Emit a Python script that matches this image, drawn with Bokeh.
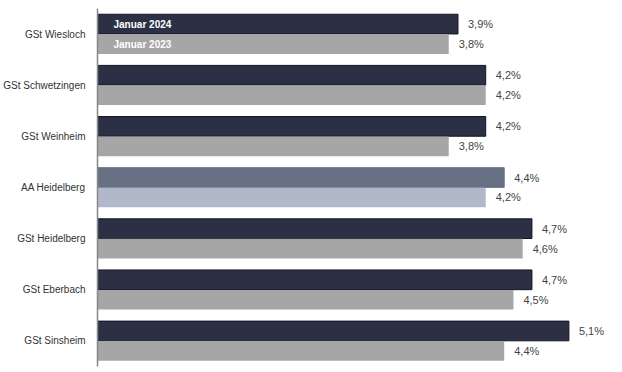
from bokeh.plotting import figure
from bokeh.models import ColumnDataSource, FactorRange, Range1d
from bokeh.transform import dodge
from bokeh.core.properties import value
from bokeh.embed import file_html
from bokeh.resources import INLINE

categories = ["GSt Wiesloch", "GSt Schwetzingen", "GSt Weinheim", "AA Heidelberg",
              "GSt Heidelberg", "GSt Eberbach", "GSt Sinsheim"]
jan_2024 = [3.9, 4.2, 4.2, 4.4, 4.7, 4.7, 5.1]
jan_2023 = [3.8, 4.2, 3.8, 4.2, 4.6, 4.5, 4.4]
series_names = ["Januar 2024", "Januar 2023"]

def fmt(v):
    return f"{v:.1f}".replace(".", ",") + "%"

col_2024 = ["#687084" if c.startswith("AA") else "#2b3045" for c in categories]
col_2023 = ["#b0b8ca" if c.startswith("AA") else "#a6a6a6" for c in categories]
line_2024 = ["#687084" if c.startswith("AA") else "#111522" for c in categories]

src = ColumnDataSource(dict(
    cat=categories, v24=jan_2024, v23=jan_2023,
    l24=[fmt(v) for v in jan_2024], l23=[fmt(v) for v in jan_2023],
    c24=col_2024, c23=col_2023, lc24=line_2024,
))

p = figure(y_range=FactorRange(factors=list(reversed(categories)), range_padding=0),
           x_range=Range1d(0, 5.55),
           width=614, height=368, output_backend="svg", toolbar_location=None,
           min_border_left=89, min_border_right=4, min_border_top=8, min_border_bottom=2)

p.hbar(y=dodge("cat", 0.195, range=p.y_range), right="v24", left=0, height=0.385,
       source=src, fill_color="c24", line_color="lc24", line_width=1)
p.hbar(y=dodge("cat", -0.195, range=p.y_range), right="v23", left=0, height=0.385,
       source=src, fill_color="c23", line_color=None)

p.text(x="v24", y=dodge("cat", 0.195, range=p.y_range), text="l24", source=src,
       x_offset=10, text_baseline="middle", text_font=value("Liberation Sans"),
       text_font_size="11px", text_color="#444444")
p.text(x="v23", y=dodge("cat", -0.195, range=p.y_range), text="l23", source=src,
       x_offset=10, text_baseline="middle", text_font=value("Liberation Sans"),
       text_font_size="11px", text_color="#444444")

first = ColumnDataSource(dict(cat=[categories[0]]))
p.text(x=0, y=dodge("cat", 0.195, range=p.y_range), text=value(series_names[0]),
       source=first, x_offset=16,
       text_baseline="middle", text_font=value("Liberation Sans"), text_font_size="10px",
       text_font_style="bold", text_color="white")
p.text(x=0, y=dodge("cat", -0.195, range=p.y_range), text=value(series_names[1]),
       source=first, x_offset=16,
       text_baseline="middle", text_font=value("Liberation Sans"), text_font_size="10px",
       text_font_style="bold", text_color="white")

p.xaxis.visible = False
p.grid.visible = False
p.outline_line_color = None
p.yaxis.axis_line_color = "#888888"
p.yaxis.axis_line_width = 1.5
p.yaxis.major_tick_line_color = None
p.yaxis.minor_tick_line_color = None
p.yaxis.major_label_standoff = 6
p.yaxis.major_label_text_font = "Liberation Sans"
p.yaxis.major_label_text_font_size = "10px"
p.yaxis.major_label_text_color = "#333333"
p.background_fill_color = "white"
p.border_fill_color = "white"

open("out.html", "w").write(file_html(p, INLINE))
